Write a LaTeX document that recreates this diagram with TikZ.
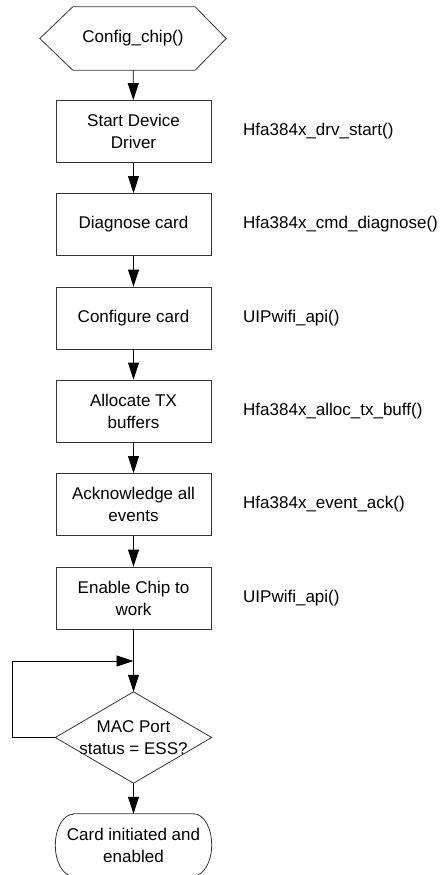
\documentclass[tikz,border=0pt]{standalone}
\usepackage{fontspec}
\setmainfont{Liberation Sans}
\usetikzlibrary{arrows.meta}
\begin{document}
\begin{tikzpicture}[x=1pt,y=-1pt,
  every node/.style={font=\fontsize{17}{22}\selectfont, text=black},
  outline/.style={draw=black!80, line width=0.8pt},
  stepbox/.style={outline, minimum width=155pt, minimum height=62pt, align=center, inner sep=0pt},
  hold/.style={minimum width=#1, inner sep=0pt, align=center},
  flow/.style={-{Triangle[length=17pt,width=11pt]}, line width=0.8pt, draw=black},
  call/.style={anchor=west, inner sep=0pt}
]
\useasboundingbox (0,0) rectangle (443,875);
\clip (0,0) rectangle (443,875);

% entry point (hexagon)
\node[hold=186pt, minimum height=63pt] (start) at (133,38.5) {Config\_chip()};
\draw[outline] (start.west) -- ([xshift=33pt]start.north west)
  -- ([xshift=-31pt]start.north east) -- (start.east)
  -- ([xshift=-31pt]start.south east) -- ([xshift=33pt]start.south west) -- cycle;

% process steps
\node[stepbox] (s1) at (133.5,131.5) {Start Device\\Driver};
\node[stepbox] (s2) at (133.5,224.5) {Diagnose card};
\node[stepbox] (s3) at (133.5,318) {Configure card};
\node[stepbox] (s4) at (133.5,411) {Allocate TX\\buffers};
\node[stepbox] (s5) at (133.5,504.5) {Acknowledge all\\events};
\node[stepbox] (s6) at (133.5,598) {Enable Chip to\\work};

% functions called by each step
\node[call] (f1) at (243,131.5) {Hfa384x\_drv\_start()};
\node[call] (f2) at (243,224.5) {Hfa384x\_cmd\_diagnose()};
\node[call] (f3) at (243,318) {UIPwifi\_api()};
\node[call] (f4) at (243,411) {Hfa384x\_alloc\_tx\_buff()};
\node[call] (f5) at (243,504.5) {Hfa384x\_event\_ack()};
\node[call] (f6) at (243,598) {UIPwifi\_api()};

% decision
\node[hold=156pt, minimum height=91pt] (dec) at (133.5,737.5) {MAC Port\\status = ESS?};
\draw[outline] (dec.north) -- (dec.east) -- (dec.south) -- (dec.west) -- cycle;

% terminal
\node[hold=156pt, minimum height=62pt] (fin) at (133.5,845) {Card initiated and\\enabled};
\draw[outline] ([xshift=18pt]fin.north west) -- ([xshift=-18pt]fin.north east)
  arc[start angle=90, end angle=-90, x radius=18pt, y radius=31pt]
  -- ([xshift=18pt]fin.south west)
  arc[start angle=270, end angle=90, x radius=18pt, y radius=31pt] -- cycle;

% connectors
\draw[flow] (start) -- (s1);
\draw[flow] (s1) -- (s2);
\draw[flow] (s2) -- (s3);
\draw[flow] (s3) -- (s4);
\draw[flow] (s4) -- (s5);
\draw[flow] (s5) -- (s6);
\draw[flow] (s6) -- (dec.north);
\draw[flow] (dec.south) -- (fin);

% retry loop
\coordinate (join) at (133.5,661);
\draw[flow] (dec.west) -- ++(-43pt,0) |- (join);
\end{tikzpicture}
\end{document}
